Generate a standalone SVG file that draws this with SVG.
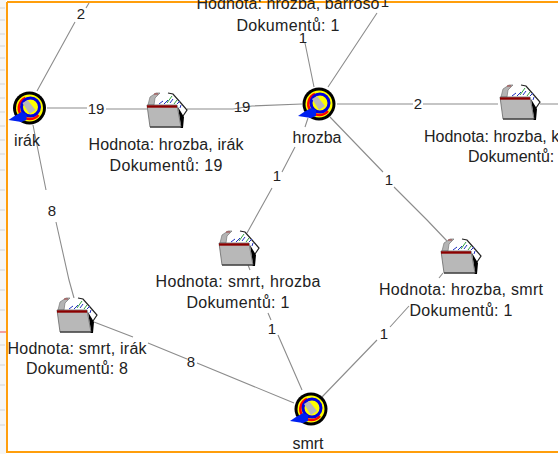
<svg xmlns="http://www.w3.org/2000/svg" width="558" height="454" viewBox="0 0 558 454">
<style>
.t{font-family:"Liberation Sans",Arial,sans-serif;font-size:16px;fill:#222;text-anchor:middle}
.e{font-family:"Liberation Sans",Arial,sans-serif;font-size:15px;fill:#222;text-anchor:middle}
.s{text-anchor:start}
.l{stroke:#8c8c8c;stroke-width:1.1;fill:none}
</style>
<defs>
<g id="target">
<circle r="16.5" fill="#000"/>
<circle r="13.5" fill="#ffff00"/>
<path d="M-9 6A11 11 0 0 1 -4 -10M-8 7A11 11 0 0 0 9 7" fill="none" stroke="#ff0000" stroke-width="2.5"/>
<circle cx="1" cy="-1" r="9" fill="none" stroke="#0000e0" stroke-width="3"/>
<path d="M-7 -5L0 6L6 2L-2 -8Z" fill="#b8b8b8"/>
<path d="M-8 4L-3 6L-3 12L-8 14L-21 12L-15 8Z" fill="#0020f0"/>
</g>
<g id="folder">
<path d="M3 -1L3 -8L8 -12L23 -12L33 -3L40 5L36 11L33 20L6 20Z" fill="#fff"/>
<path d="M1 0L3 -8L9 -12L13 -12L8 -7L7 0Z" fill="#b4b4b4" stroke="#777" stroke-width=".7"/>
<path d="M7 -11H11" stroke="#a04040" stroke-width="1"/>
<path d="M21 -12L26 -11L33 -3L40 5L36 11" fill="none" stroke="#222" stroke-width="1.2"/>
<path d="M12 -1L16 -4M17 -1L21 -5M23 -2L26 -6M30 -1L33 -4M33 3L34 0" stroke="#2030c0" stroke-width="1" fill="none"/>
<path d="M20 -2L25 -9M27 -1L30 -5" stroke="#30a040" stroke-width="1" fill="none"/>
<path d="M31 2L34 21L33 23L36 23L37 12Z" fill="#000"/>
<path d="M0 0L30 0L34 22L3 22Z" fill="#b8b8b8" stroke="#666" stroke-width=".8"/>
<path d="M0 1.5L30 1.5" stroke="#8b0000" stroke-width="2.4"/>
<path d="M3 22L34 22" stroke="#444" stroke-width="1.4"/>
</g>
</defs>
<rect width="558" height="454" fill="#fff"/>
<g id="frame">
<rect x="0" y="0" width="6" height="454" fill="#f6f6f6"/>
<path d="M0 8H5M0 20H5M0 34H5M0 46H5M0 58H5M0 70H5M0 84H5M0 98H5M0 112H5M0 126H5M0 140H5M0 154H5M0 170H5M0 190H5M0 210H5M0 230H5M0 250H5M0 270H5M0 290H5M0 310H5M0 345H5M0 365H5M0 385H5M0 410H5M0 425H5" stroke="#e0e0e0" stroke-width="1.5"/>
<path d="M0 332H6" stroke="#f08080" stroke-width="1.5"/>
<path d="M7 2H558M7 2V452H558" fill="none" stroke="#ff9e0c" stroke-width="2"/>
</g>
<g id="connectors">
<path class="l" d="M89 3L86 8M75 22L37 91"/>
<path class="l" d="M47 108H87M106 109H147M187 109H200H233L252 106L302 104"/>
<path class="l" d="M33 125L40 160L46 190M56 222L69 280L74 298"/>
<path class="l" d="M305 43L314 87M377 13L328 87"/>
<path class="l" d="M337 104H413M423 104H498M540 104H558"/>
<path class="l" d="M308 118L305 127M295 147L282 172M272 188L247 233"/>
<path class="l" d="M330 117L383 172M394 187L427 220L447 241M443 273L439 278"/>
<path class="l" d="M248 265L250 270M268 313L271 320M278 335L302 390"/>
<path class="l" d="M94 322L133 337M148 343L187 359M197 363L294 403"/>
<path class="l" d="M409 306L390 327M377 340L322 397"/>
</g>
<g id="edge-labels">
<text class="e" x="81" y="19">2</text>
<text class="e" x="96" y="114">19</text>
<text class="e" x="242" y="112">19</text>
<text class="e" x="52" y="216">8</text>
<text class="e" x="303" y="43">1</text>
<text class="e" x="418" y="109">2</text>
<text class="e" x="277" y="181">1</text>
<text class="e" x="389" y="185">1</text>
<text class="e" x="272" y="334">1</text>
<text class="e" x="191" y="367">8</text>
<text class="e" x="384" y="339">1</text>
</g>
<g id="n-hrozba-barroso"><text class="t" x="288" y="9" textLength="183">Hodnota: hrozba, barroso</text><text class="e" x="385" y="7">1</text><text class="t" x="288" y="31" textLength="103">Dokumentů: 1</text></g>
<g id="n-irak"><use href="#target" x="29.500" y="108"/><text class="t" x="27" y="146">irák</text></g>
<g id="n-hrozba"><use href="#target" x="319" y="104"/><text class="t" x="317" y="143">hrozba</text></g>
<g id="n-smrt"><use href="#target" x="311" y="409"/><text class="t" x="308" y="449">smrt</text></g>
<g id="n-hrozba-irak"><use href="#folder" x="147" y="105"/><text class="t" x="166" y="150" textLength="155">Hodnota: hrozba, irák</text><text class="t" x="166" y="171" textLength="113">Dokumentů: 19</text></g>
<g id="n-hrozba-k"><use href="#folder" x="500" y="97"/><text class="t s" x="424" y="142">Hodnota: hrozba, k</text><text class="t s" x="468" y="162">Dokumentů:</text></g>
<g id="n-smrt-hrozba"><use href="#folder" x="219" y="243"/><text class="t" x="238" y="287" textLength="165">Hodnota: smrt, hrozba</text><text class="t" x="238" y="308" textLength="103">Dokumentů: 1</text></g>
<g id="n-hrozba-smrt"><use href="#folder" x="441" y="251"/><text class="t" x="461" y="295" textLength="164">Hodnota: hrozba, smrt</text><text class="t" x="461" y="316" textLength="103">Dokumentů: 1</text></g>
<g id="n-smrt-irak"><use href="#folder" x="57" y="310"/><text class="t" x="77" y="354" textLength="139">Hodnota: smrt, irák</text><text class="t" x="77" y="374" textLength="102">Dokumentů: 8</text></g>
</svg>
